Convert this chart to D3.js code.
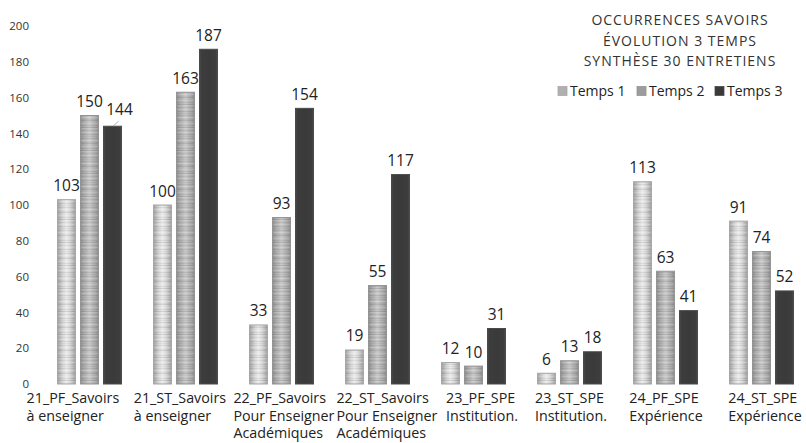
<!DOCTYPE html>
<html>
<head>
<meta charset="utf-8">
<script src="https://cdn.jsdelivr.net/npm/d3@7"></script>
<style>
  html, body { margin: 0; padding: 0; background: #fff; }
  svg { display: block; font-family: "Open Sans", sans-serif; }
</style>
</head>
<body>
<svg id="chart" width="806" height="443"></svg>
<script>
// Category labels (each split into wrapped lines)
const categories = [
  ["21_PF_Savoirs", "à enseigner"],
  ["21_ST_Savoirs", "à enseigner"],
  ["22_PF_Savoirs", "Pour Enseigner", "Académiques"],
  ["22_ST_Savoirs", "Pour Enseigner", "Académiques"],
  ["23_PF_SPE", "Institution."],
  ["23_ST_SPE", "Institution."],
  ["24_PF_SPE", "Expérience"],
  ["24_ST_SPE", "Expérience"]
];
const seriesNames = ["Temps 1", "Temps 2", "Temps 3"];
const temps1 = [103, 100, 33, 19, 12, 6, 113, 91];
const temps2 = [150, 163, 93, 55, 10, 13, 63, 74];
const temps3 = [144, 187, 154, 117, 31, 18, 41, 52];
const yTicks = [0, 20, 40, 60, 80, 100, 120, 140, 160, 180, 200];
const titleLines = ["OCCURRENCES SAVOIRS", "ÉVOLUTION 3 TEMPS", "SYNTHÈSE 30 ENTRETIENS"];

// Horizontal nudges for the wrapped category label blocks
const labelShift = [-16.5, -5.5, 2.5, 9.5, 8.5, 1.5, 0.5, 3.5];

const series = [temps1, temps2, temps3];
const rows = categories.map((c, i) => ({
  key: c[0],
  lines: c,
  values: seriesNames.map((s, j) => ({ series: s, idx: j, value: series[j][i] }))
}));

const svg = d3.select("#chart");
const defs = svg.append("defs");

// Cylinder-like gradients for the bars
function hGrad(id, stops) {
  const g = defs.append("linearGradient").attr("id", id)
    .attr("x1", "0%").attr("x2", "100%").attr("y1", "0%").attr("y2", "0%");
  stops.forEach(([o, c]) => g.append("stop").attr("offset", o).attr("stop-color", c));
}
hGrad("g1", [["0%", "#a2a2a2"], ["10%", "#b4b4b4"], ["30%", "#d8d8d8"], ["50%", "#ebebeb"], ["70%", "#d8d8d8"], ["90%", "#b4b4b4"], ["100%", "#a2a2a2"]]);
hGrad("g2", [["0%", "#8e8e8e"], ["15%", "#a6a6a6"], ["50%", "#cacaca"], ["85%", "#a6a6a6"], ["100%", "#8e8e8e"]]);
hGrad("g3", [["0%", "#4e4e4e"], ["10%", "#3d3d3d"], ["50%", "#3a3a3a"], ["90%", "#3d3d3d"], ["100%", "#4e4e4e"]]);

// Fine horizontal streak texture laid over the grey bars
const pat = defs.append("pattern").attr("id", "streak")
  .attr("patternUnits", "userSpaceOnUse").attr("width", 20).attr("height", 23);
[[0, "#000", 0.07], [2, "#fff", 0.18], [4, "#000", 0.04], [5, "#000", 0.09],
 [8, "#fff", 0.14], [10, "#000", 0.06], [12, "#000", 0.10], [13, "#fff", 0.12],
 [15, "#000", 0.05], [17, "#fff", 0.16], [19, "#000", 0.08], [21, "#000", 0.04]]
  .forEach(([y, c, o]) => pat.append("rect").attr("x", 0).attr("y", y)
    .attr("width", 20).attr("height", 1).attr("fill", c).attr("fill-opacity", o));

const fills = ["url(#g1)", "url(#g2)", "url(#g3)"];
const strokes = ["#a8a8a8", "#949494", "#4a4a4a"];
const legendFills = ["#b0b0b0", "#9c9c9c", "#3a3a3a"];

const x0 = d3.scaleBand().domain(rows.map(r => r.key)).range([41.5, 809.5]).padding(0);
const x1 = d3.scaleBand().domain(seriesNames).range([15.5, 80.5]).paddingInner(4 / 23).paddingOuter(0);
const y = d3.scaleLinear().domain([0, 200]).range([384, 26]);

// Y axis labels only (no line, no gridlines)
const yAxis = svg.append("g").attr("transform", "translate(29,0)")
  .call(d3.axisLeft(y).tickValues(yTicks).tickSize(0).tickPadding(0));
yAxis.select(".domain").remove();
yAxis.selectAll("text").attr("fill", "#333").style("font-size", "11.5px")
  .style("font-family", "'Open Sans', sans-serif");

// Bars
const groups = svg.append("g").selectAll("g.grp").data(rows).join("g")
  .attr("class", "grp").attr("transform", d => `translate(${x0(d.key)},0)`);

groups.selectAll("rect.bar").data(d => d.values).join("rect")
  .attr("class", "bar")
  .attr("x", d => x1(d.series) + 0.5)
  .attr("width", x1.bandwidth() - 1)
  .attr("y", d => y(d.value))
  .attr("height", d => y(0) - y(d.value))
  .attr("fill", d => fills[d.idx])
  .attr("stroke", d => strokes[d.idx])
  .attr("stroke-width", 1);

groups.selectAll("rect.tex").data(d => d.values.filter(v => v.idx < 2)).join("rect")
  .attr("class", "tex")
  .attr("x", d => x1(d.series) + 1)
  .attr("width", x1.bandwidth() - 2)
  .attr("y", d => y(d.value) + 0.5)
  .attr("height", d => Math.max(0, y(0) - y(d.value) - 1))
  .attr("fill", "url(#streak)");

// Value labels (one label nudged right with a small leader line)
const nudge = (d, row) => (row.key === "21_PF_Savoirs" && d.idx === 2) ? 7 : 0;
groups.each(function (row) {
  const g = d3.select(this);
  row.values.forEach(d => {
    const cx = x1(d.series) + x1.bandwidth() / 2;
    const dx = nudge(d, row);
    g.append("text")
      .attr("x", cx + dx)
      .attr("y", y(d.value) - (dx ? 11 : 8.5))
      .attr("text-anchor", "middle")
      .attr("fill", "#222")
      .style("font-size", "15.5px")
      .text(d.value);
    if (dx) {
      g.append("line")
        .attr("x1", cx + 1).attr("y1", y(d.value) - 0.5)
        .attr("x2", cx + 6).attr("y2", y(d.value) - 5)
        .attr("stroke", "#999").attr("stroke-width", 0.8);
    }
  });
});

// Category labels: left-aligned lines, block centred under each group
groups.each(function (row, i) {
  const g = d3.select(this);
  const cx = x0.bandwidth() / 2 + labelShift[i];
  const t = g.append("text")
    .attr("fill", "#222")
    .style("font-size", "14.3px");
  row.lines.forEach((line, k) => {
    t.append("tspan").attr("x", 0).attr("y", 403 + k * 17.5).text(line);
  });
  const w = t.node().getBBox().width;
  t.attr("transform", `translate(${cx - w / 2},0)`);
});

// Title
const title = svg.append("text")
  .attr("text-anchor", "middle")
  .attr("fill", "#333")
  .style("font-size", "14px")
  .style("letter-spacing", "1px");
titleLines.forEach((line, k) => {
  title.append("tspan").attr("x", 680).attr("y", 25 + k * 20.5).text(line);
});

// Legend
const legendX = [558, 637, 715];
const legend = svg.append("g").selectAll("g").data(seriesNames).join("g")
  .attr("transform", (d, i) => `translate(${legendX[i]},91)`);
legend.append("rect").attr("x", 0).attr("y", -4.5).attr("width", 9).attr("height", 9)
  .attr("fill", (d, i) => legendFills[i]).attr("stroke", (d, i) => strokes[i]).attr("stroke-width", 0.8);
legend.append("text").attr("x", 12).attr("y", 5)
  .attr("fill", "#222").style("font-size", "14px").text(d => d);
</script>
</body>
</html>
